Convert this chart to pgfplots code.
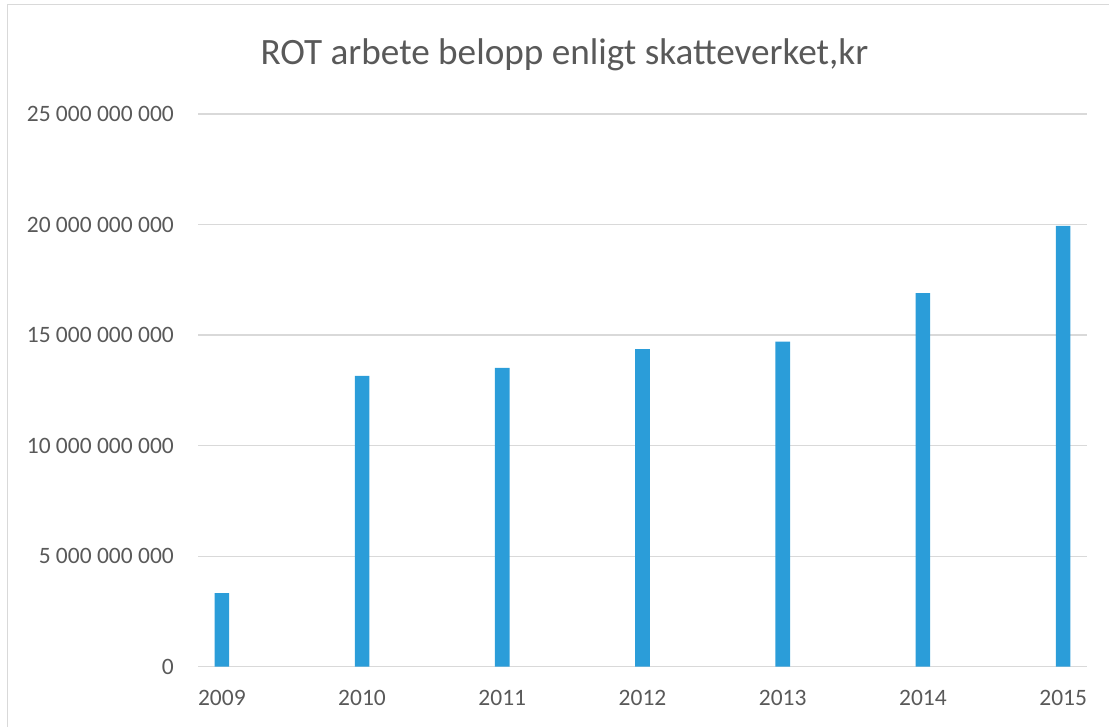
\documentclass[border=0pt]{standalone}
\usepackage{pgfplots}
\pgfplotsset{compat=1.18}
\usepackage{fontspec}
\setmainfont{Carlito}
\definecolor{barblue}{RGB}{43,157,217}
\definecolor{gridgray}{RGB}{217,217,217}
\definecolor{txt}{RGB}{89,89,89}
\definecolor{frame}{RGB}{217,217,217}
\begin{document}
\begin{tikzpicture}[x=1pt,y=1pt]
\useasboundingbox (0,0) rectangle (1109,726);
\draw[frame, line width=1.3pt] (7.3,-2) -- (7.3,721.3) -- (1112,721.3);
\node[anchor=base, text=txt, font=\fontsize{37.2}{42}\selectfont, inner sep=0pt] at (564.4,661) {ROT arbete belopp enligt skatteverket,kr};
\begin{axis}[
  at={(198pt,59.3pt)}, anchor=south west,
  width=889pt, height=552.7pt, scale only axis,
  xmin=-0.17, xmax=6.17,
  ymin=0, ymax=25e9,
  ytick={0,5e9,10e9,15e9,20e9,25e9},
  yticklabels={0,5 000 000 000,10 000 000 000,15 000 000 000,20 000 000 000,25 000 000 000},
  xtick={0,1,2,3,4,5,6},
  xticklabels={2009,2010,2011,2012,2013,2014,2015},
  scaled y ticks=false,
  major tick length=0pt,
  axis line style={draw=none},
  ymajorgrids,
  grid style={gridgray, line width=1.3pt},
  yticklabel style={anchor=east, inner sep=0pt, xshift=-24pt, text=txt, font=\fontsize{23.5}{27}\selectfont},
  xticklabel style={anchor=north, inner sep=0pt, yshift=-23pt, text=txt, font=\fontsize{23.5}{27}\selectfont},
  clip=false,
]
\addplot[ybar, bar width=14.6pt, bar shift=0pt, fill=barblue, draw=none] coordinates {
  (0,3.33e9) (1,13.16e9) (2,13.52e9) (3,14.37e9) (4,14.70e9) (5,16.90e9) (6,19.94e9)
};
\end{axis}
\end{tikzpicture}
\end{document}
